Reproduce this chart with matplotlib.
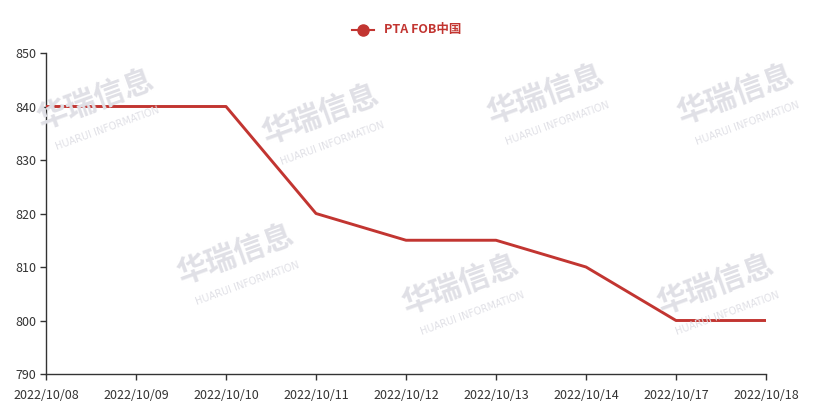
import matplotlib
matplotlib.use('Agg')
import matplotlib.pyplot as plt

plt.rcParams['font.family'] = ['Noto Sans CJK SC', 'DejaVu Sans']

# 数据
dates = ['2022/10/08', '2022/10/09', '2022/10/10', '2022/10/11', '2022/10/12',
         '2022/10/13', '2022/10/14', '2022/10/17', '2022/10/18']
prices = [840, 840, 840, 820, 815, 815, 810, 800, 800]
series_name = 'PTA FOB中国'
y_ticks = [790, 800, 810, 820, 830, 840, 850]

line_color = '#c23531'
axis_color = '#333333'

fig = plt.figure(figsize=(8.14, 4.19), dpi=100)
ax = fig.add_axes([46 / 814, 1 - 374 / 419, 720 / 814, 321 / 419])

# 水印
marks = [(95, 100), (320, 115), (545, 95), (735, 95),
         (235, 255), (460, 285), (715, 285)]
for mx, my in marks:
    fig.text(mx / 814, 1 - my / 419, '华瑞信息', fontsize=22, fontweight='bold',
             color='#e0e0e6', rotation=20, ha='center', va='center', zorder=0)
    fig.text((mx + 12) / 814, 1 - (my + 28) / 419, 'HUARUI INFORMATION', fontsize=7,
             color='#e0e0e6', rotation=20, ha='center', va='center', zorder=0,
             family='DejaVu Sans')

x = list(range(len(dates)))
ax.plot(x, prices, color=line_color, linewidth=2.1, label=series_name, zorder=3)

ax.set_xlim(0, len(dates) - 1)
ax.set_ylim(790, 850)
ax.set_xticks(x)
ax.set_xticklabels(dates)
ax.set_yticks(y_ticks)

ax.patch.set_alpha(0)
for side in ['top', 'right']:
    ax.spines[side].set_visible(False)
for side in ['left', 'bottom']:
    ax.spines[side].set_color(axis_color)
    ax.spines[side].set_linewidth(1)
ax.tick_params(axis='both', colors=axis_color, labelsize=9, length=4, width=1)
ax.tick_params(axis='x', pad=7)
ax.tick_params(axis='y', pad=3)

# 图例
fig.lines.append(plt.Line2D([352 / 814, 374 / 814], [1 - 30 / 419, 1 - 30 / 419],
                            transform=fig.transFigure, color=line_color, linewidth=1.5))
fig.lines.append(plt.Line2D([363 / 814], [1 - 30 / 419], transform=fig.transFigure,
                            marker='o', markersize=8, color=line_color, linestyle='none'))
fig.text(384 / 814, 1 - 30 / 419, series_name, color=line_color, fontsize=9,
         fontweight='bold', ha='left', va='center')

fig.savefig('out.png', dpi=100)
